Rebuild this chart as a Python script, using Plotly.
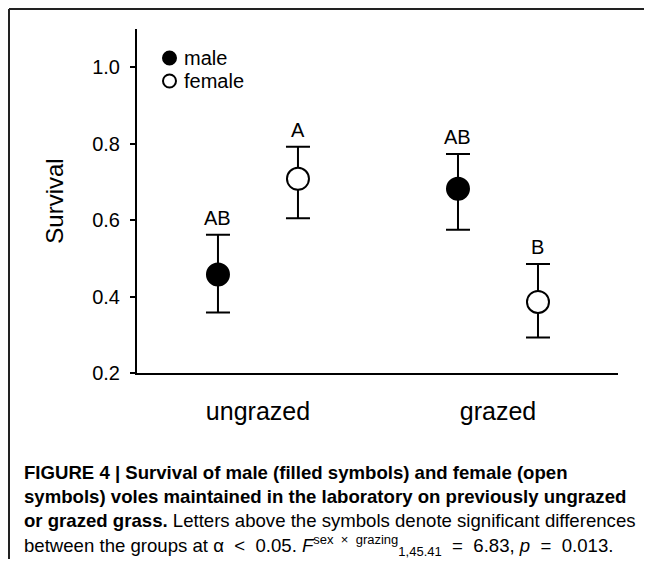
import plotly.graph_objects as go

# ---- data ----
categories = ["ungrazed", "grazed"]
cat_pos = [0, 1]
male_mean = [0.458, 0.682]
male_upper = [0.562, 0.773]
male_lower = [0.358, 0.575]
female_mean = [0.708, 0.386]
female_upper = [0.792, 0.485]
female_lower = [0.605, 0.293]
male_letters = ["AB", "AB"]
female_letters = ["A", "B"]
y_ticks = [0.2, 0.4, 0.6, 0.8, 1.0]
y_ticklabels = ["0.2", "0.4", "0.6", "0.8", "1.0"]
legend_labels = ["male", "female"]

caption_lines = [
    "<b>FIGURE 4 | Survival of male (filled symbols) and female (open</b>",
    "<b>symbols) voles maintained in the laboratory on previously ungrazed</b>",
    "<b>or grazed grass.</b> Letters above the symbols denote significant differences",
    "between the groups at α&nbsp; &lt;&nbsp; 0.05. <i>F</i>"
    "<sup>sex&nbsp; ×&nbsp; grazing</sup>"
    "<sub>1,45.41</sub>&nbsp; =&nbsp; 6.83, <i>p</i>&nbsp; =&nbsp; 0.013.",
]

# ---- layout geometry ----
# The page body keeps its default 8px margin, so the figure is drawn 8px
# right/down of the window origin; page positions below are converted.
PAGE_OFF = 8
W, H = 652 - 2 * PAGE_OFF, 567 - 2 * PAGE_OFF   # fits the window, no scrollbars
L, R, T, B = 137, 618, 29, 373          # plot area in page pixels
OFF = 1 / 6  # horizontal offset of sexes within a group


def px(x):
    return (x - L) / (R - L)


def py(y):
    return (B - y) / (B - T)


FONT = "Liberation Sans, Arial, sans-serif"

male_x = [c - OFF for c in cat_pos]
female_x = [c + OFF for c in cat_pos]

fig = go.Figure()

err_style = dict(type="data", symmetric=False, color="black", thickness=2, width=12)

fig.add_trace(go.Scatter(
    x=male_x, y=male_mean, mode="markers", showlegend=False, name="male",
    marker=dict(symbol="circle", size=22, color="black", line=dict(color="black", width=2)),
    error_y=dict(array=[u - m for u, m in zip(male_upper, male_mean)],
                 arrayminus=[m - l for m, l in zip(male_mean, male_lower)], **err_style),
))
fig.add_trace(go.Scatter(
    x=female_x, y=female_mean, mode="markers", showlegend=False, name="female",
    marker=dict(symbol="circle", size=22, color="white", line=dict(color="black", width=2)),
    error_y=dict(array=[u - m for u, m in zip(female_upper, female_mean)],
                 arrayminus=[m - l for m, l in zip(female_mean, female_lower)], **err_style),
))

annotations = []
for xs, tops, letters in ((male_x, male_upper, male_letters),
                          (female_x, female_upper, female_letters)):
    for x, t, s in zip(xs, tops, letters):
        annotations.append(dict(x=x, y=t, xref="x", yref="y", text=s, showarrow=False,
                                yanchor="bottom", yshift=4,
                                font=dict(family=FONT, size=20, color="black")))

# figure border (top and left edges)
edge = PAGE_OFF + 1
shapes = [
    dict(type="line", xref="paper", yref="paper", x0=px(edge), x1=px(700), y0=py(edge), y1=py(edge),
         line=dict(color="#222222", width=2)),
    dict(type="line", xref="paper", yref="paper", x0=px(edge), x1=px(edge), y0=py(edge), y1=py(700),
         line=dict(color="#222222", width=2)),
]

# hand-drawn legend (symbol + label)
leg_y = [58, 81]
leg_fill = ["black", "white"]
for lab, yy, fc in zip(legend_labels, leg_y, leg_fill):
    r = 6.5
    shapes.append(dict(type="circle", xref="paper", yref="paper",
                       x0=px(169.5 - r), x1=px(169.5 + r), y0=py(yy + r), y1=py(yy - r),
                       fillcolor=fc, line=dict(color="black", width=2)))
    annotations.append(dict(x=px(182), y=py(yy), xref="paper", yref="paper", text=lab,
                            showarrow=False, xanchor="left", yanchor="middle",
                            font=dict(family=FONT, size=20, color="black")))

cap_y = [472, 496, 520, 545]
for line, yy in zip(caption_lines, cap_y):
    annotations.append(dict(x=px(22), y=py(yy), xref="paper", yref="paper", text=line,
                            showarrow=False, xanchor="left", yanchor="middle", align="left",
                            font=dict(family=FONT, size=18.6, color="black")))

fig.update_layout(
    width=W, height=H,
    margin=dict(l=L - PAGE_OFF, r=W - (R - PAGE_OFF), t=T - PAGE_OFF, b=H - (B - PAGE_OFF), pad=0),
    paper_bgcolor="white", plot_bgcolor="white",
    showlegend=False,
    xaxis=dict(range=[-0.504, 1.5], tickmode="array", tickvals=cat_pos, ticktext=categories,
               showline=True, linecolor="black", linewidth=2, ticks="", showgrid=False,
               zeroline=False, ticklabelstandoff=15,
               tickfont=dict(family=FONT, size=25, color="black")),
    yaxis=dict(range=[0.2, 1.1], tickmode="array", tickvals=y_ticks, ticktext=y_ticklabels,
               showline=True, linecolor="black", linewidth=2, ticks="outside", ticklen=5,
               tickwidth=2, tickcolor="black", showgrid=False, zeroline=False,
               ticklabelstandoff=6,
               tickfont=dict(family=FONT, size=20, color="black"),
               title=dict(text="Survival", standoff=22,
                          font=dict(family=FONT, size=24, color="black"))),
    annotations=annotations,
    shapes=shapes,
)

fig.write_html("out.html", config={"displayModeBar": False})
